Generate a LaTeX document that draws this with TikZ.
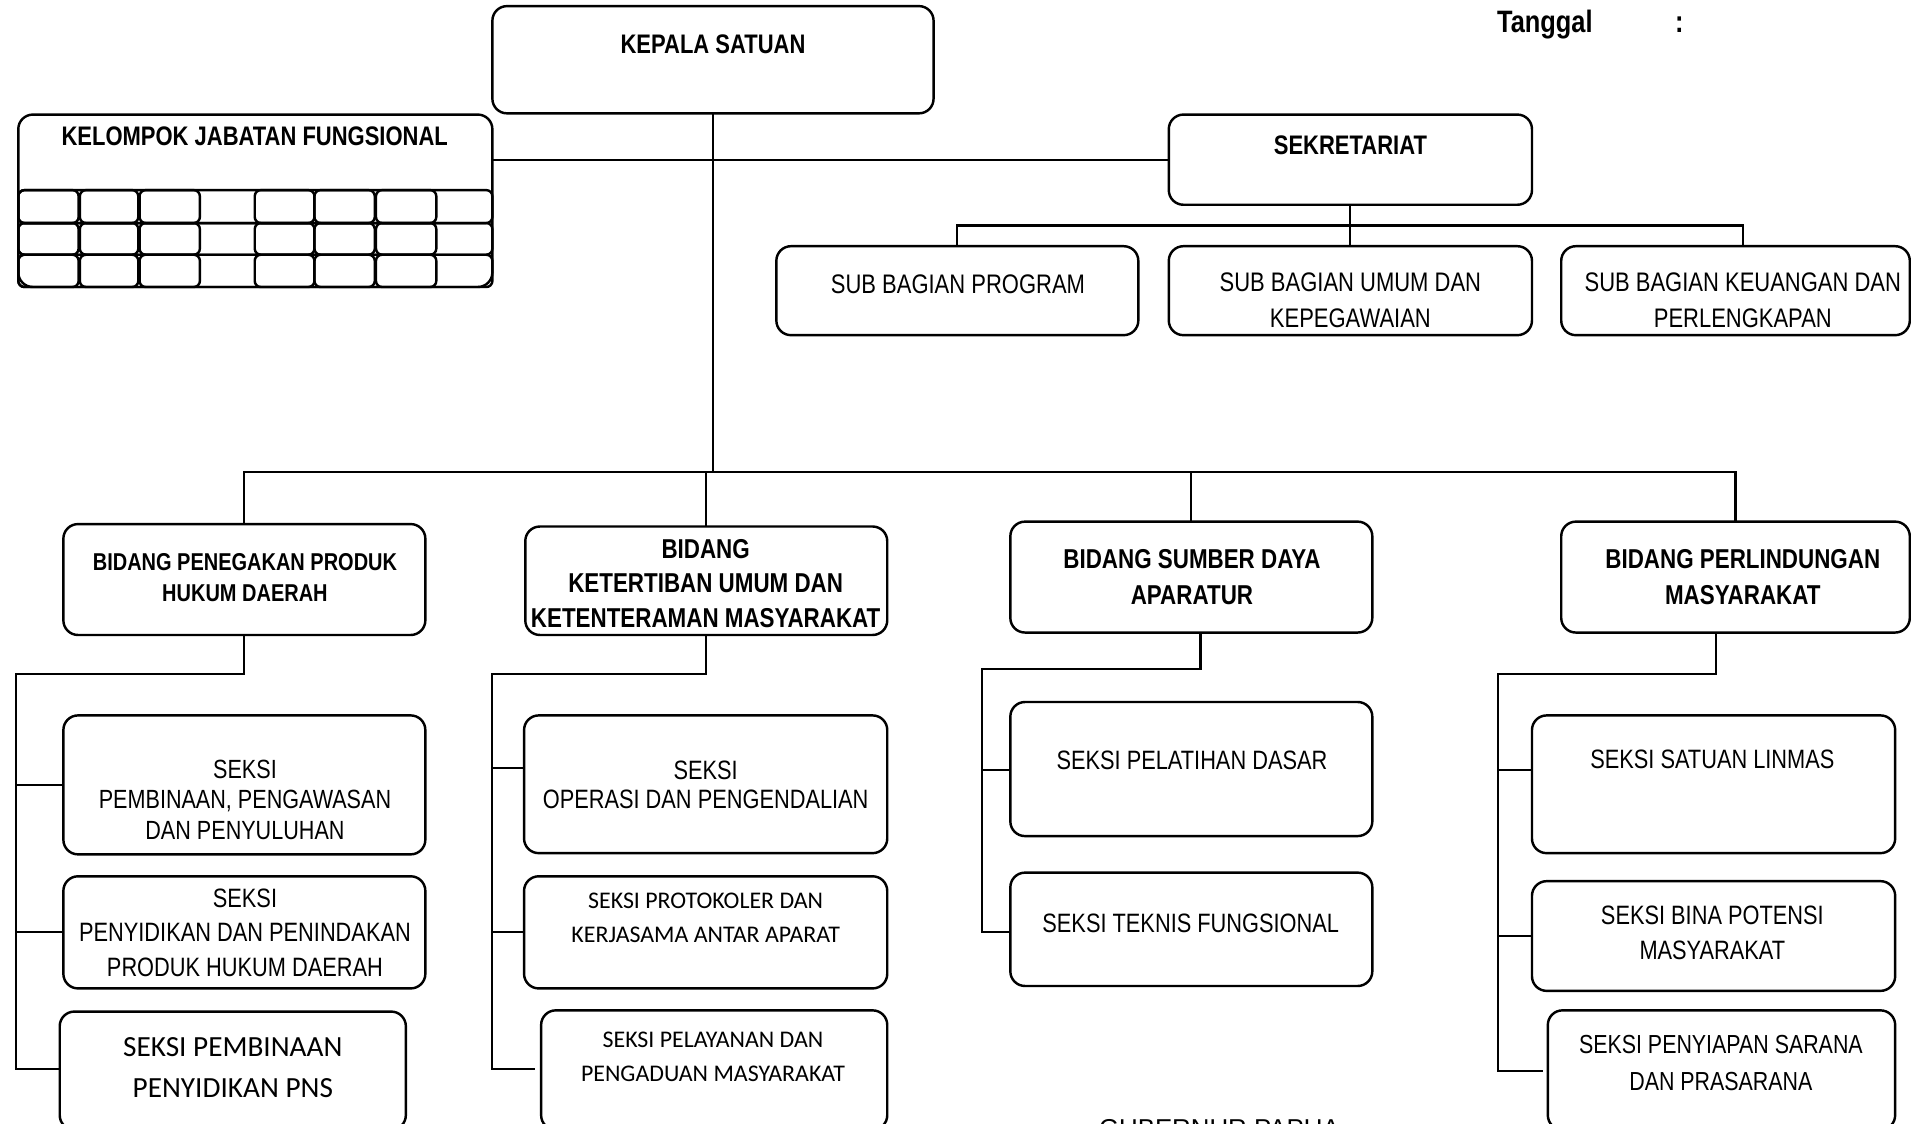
\documentclass[tikz,border=0pt]{standalone}
\usepackage{fontspec}
\setmainfont{Liberation Sans}[FakeStretch=0.82]
\newfontfamily\calfont{Carlito}
\newfontfamily\widefont{Liberation Sans}
\usetikzlibrary{fit}
\tikzset{
  box/.style={draw, line width=1pt, rounded corners=6pt, inner sep=0pt, outer sep=0pt},
  cell/.style={line width=1pt, rounded corners=2.5pt},
  conn/.style={line width=0.9pt},
  lbl/.style={align=center, inner sep=0pt},
}
\newcommand\bx[5]{\node[box, fit={(#2,#3) (#4,#5)}] (#1) {};}
\newcommand\myBF[2]{\bfseries\fontsize{#1}{#2}\selectfont}
\newcommand\myRF[2]{\fontsize{#1}{#2}\selectfont}
\newcommand\myCF[2]{\calfont\fontsize{#1}{#2}\selectfont}
\begin{document}
\begin{tikzpicture}[x=0.5pt,y=-0.5pt]
\useasboundingbox (0,0) rectangle (1568,922);
% ---------- boxes ----------
\bx{kep}{404}{5}{766}{93}
\bx{kel}{15}{94}{404}{235.5}
\bx{sek}{959}{94}{1257}{168}
\bx{sbp}{637}{202}{934}{275}
\bx{sbu}{959}{202}{1257}{275}
\bx{sbk}{1281}{202}{1567}{275}
\bx{b1}{52}{430}{349}{521}
\bx{b2}{431}{432}{728}{521}
\bx{b3}{829}{428}{1126}{519}
\bx{b4}{1281}{428}{1567}{519}
\bx{s11}{52}{587}{349}{701}
\bx{s12}{52}{719}{349}{811}
\bx{s13}{49}{830}{333}{927}
\bx{s21}{430}{587}{728}{700}
\bx{s22}{430}{719}{728}{811}
\bx{s23}{444}{829}{728}{927}
\bx{s31}{829}{576}{1126}{686}
\bx{s32}{829}{716}{1126}{809}
\bx{s41}{1257}{587}{1555}{700}
\bx{s42}{1257}{723}{1555}{813}
\bx{s43}{1270}{829}{1555}{927}
% ---------- grid inside kelompok ----------
\foreach \ya/\yb in {156/183,183/209,209/235.5}{
  \draw[cell] (15,\ya) rectangle (404,\yb);
  \foreach \xa/\xb in {15/64.5,65.5/113.5,114.5/164,209/258,258/307.5,308.5/358}{
    \draw[cell] (\xa,\ya) rectangle (\xb,\yb);
  }
}
% ---------- connectors ----------
\coordinate (bbus) at (585,387);
\coordinate (j1) at (585,131);
\draw[conn] (kep.south) -- (bbus);
\draw[conn] (kel.east |- j1) -- (sek.west |- j1);
\coordinate (sbus) at (1108,185);
\coordinate (sbkx) at (1430,185);
\draw[conn] (sek.south) -- (sbus);
\draw[conn] (sbus) -- (sbu.north);
\draw[conn] (sbp.north) |- (sbus) -- (sbkx) -- (sbkx |- sbk.north);
\draw[conn] (b1.north) |- (bbus) -| (b4.north);
\draw[conn] (bbus -| b2.north) -- (b2.north);
\draw[conn] (bbus -| b3.north) -- (b3.north);
% column 1
\coordinate (c1t) at (13,553);
\coordinate (c1b) at (13,877);
\draw[conn] (b1.south) |- (c1t) -- (c1b) -- (c1b -| s13.west);
\draw[conn] (c1t |- s11.west) -- (s11.west);
\draw[conn] (c1t |- s12.west) -- (s12.west);
% column 2
\coordinate (c2t) at (404,553);
\coordinate (c2b) at (404,877);
\coordinate (c2e) at (439,877);
\coordinate (c2a) at (404,630);
\draw[conn] (b2.south) |- (c2t) -- (c2b) -- (c2e);
\draw[conn] (c2a) -- (c2a -| s21.west);
\draw[conn] (c2t |- s22.west) -- (s22.west);
% column 3
\coordinate (c3h) at (985,549);
\coordinate (c3t) at (806,549);
\coordinate (c3b) at (806,765);
\coordinate (c3a) at (806,632);
\draw[conn] (c3h |- b3.south) -- (c3h) -- (c3t) -- (c3b) -- (c3b -| s32.west);
\draw[conn] (c3a) -- (c3a -| s31.west);
% column 4
\coordinate (c4h) at (1408,553);
\coordinate (c4t) at (1229,553);
\coordinate (c4b) at (1229,879);
\coordinate (c4e) at (1266,879);
\coordinate (c4a) at (1229,632);
\draw[conn] (c4h |- b4.south) -- (c4h) -- (c4t) -- (c4b) -- (c4e);
\draw[conn] (c4a) -- (c4a -| s41.west);
\draw[conn] (c4t |- s42.west) -- (s42.west);
% ---------- texts ----------
\node[lbl, anchor=base west, font=\myBF{12.7}{15}] (tgl) at (1228,26.6) {Tanggal};
\node[lbl, anchor=base, font=\myBF{12.7}{15}] (tgc) at (1378,26.6) {:};
\node[lbl, font=\myBF{11}{14}] (tkep) at (585,36) {KEPALA SATUAN};
\node[lbl, font=\myBF{11}{14}] (tkel) at (209,112) {KELOMPOK JABATAN FUNGSIONAL};
\node[lbl, font=\myBF{11}{14}] (tsek) at (1108,119) {SEKRETARIAT};
\node[lbl, font=\myRF{11}{14.5}] (tsbp) at (786,233) {SUB BAGIAN PROGRAM};
\node[lbl, font=\myRF{11}{14.5}] (tsbu) at (1108,246.5) {SUB BAGIAN UMUM DAN\\KEPEGAWAIAN};
\node[lbl, font=\myRF{11}{14.5}] (tsbk) at (1430,246.5) {SUB BAGIAN KEUANGAN DAN\\PERLENGKAPAN};
\node[lbl, font=\myBF{10}{13}] (tb1) at (201,474) {BIDANG PENEGAKAN PRODUK\\HUKUM DAERAH};
\node[lbl, font=\myBF{11.2}{14.25}] (tb2) at (579,478.7) {BIDANG\\KETERTIBAN UMUM DAN\\KETENTERAMAN MASYARAKAT};
\node[lbl, font=\myBF{11.2}{14.5}] (tb3) at (978,473.5) {BIDANG SUMBER DAYA\\APARATUR};
\node[lbl, font=\myBF{11.2}{14.5}] (tb4) at (1430,473.5) {BIDANG PERLINDUNGAN\\MASYARAKAT};
\node[lbl, font=\myRF{10.8}{12.5}] (ts11) at (201,656) {SEKSI\\PEMBINAAN, PENGAWASAN\\DAN PENYULUHAN};
\node[lbl, font=\myRF{10.9}{14.25}] (ts12) at (201,765.3) {SEKSI\\PENYIDIKAN DAN PENINDAKAN\\PRODUK HUKUM DAERAH};
\node[lbl, font=\myCF{12}{16.75}] (ts13) at (191,875.7) {SEKSI PEMBINAAN\\PENYIDIKAN PNS};
\node[lbl, font=\myRF{10.9}{12}] (ts21) at (579,644) {SEKSI\\OPERASI DAN PENGENDALIAN};
\node[lbl, font=\myCF{9.8}{14}] (ts22) at (579,753) {SEKSI PROTOKOLER DAN\\KERJASAMA ANTAR APARAT};
\node[lbl, font=\myCF{9.8}{14}] (ts23) at (585,867) {SEKSI PELAYANAN DAN\\PENGADUAN MASYARAKAT};
\node[lbl, font=\myRF{10.9}{14.5}] (ts31) at (978,624) {SEKSI PELATIHAN DASAR};
\node[lbl, font=\myRF{10.9}{14.5}] (ts32) at (977,758) {SEKSI TEKNIS FUNGSIONAL};
\node[lbl, font=\myRF{10.9}{14.5}] (ts41) at (1405,623) {SEKSI SATUAN LINMAS};
\node[lbl, font=\myRF{10.9}{14.5}] (ts42) at (1405,765.5) {SEKSI BINA POTENSI\\MASYARAKAT};
\node[lbl, font=\myRF{10.7}{15}] (ts43) at (1412,872) {SEKSI PENYIAPAN SARANA\\DAN PRASARANA};
\node[lbl, anchor=base, font=\widefont\fontsize{10.6}{12}\selectfont] (gub) at (1000.5,933) {GUBERNUR PAPUA};
\end{tikzpicture}
\end{document}
